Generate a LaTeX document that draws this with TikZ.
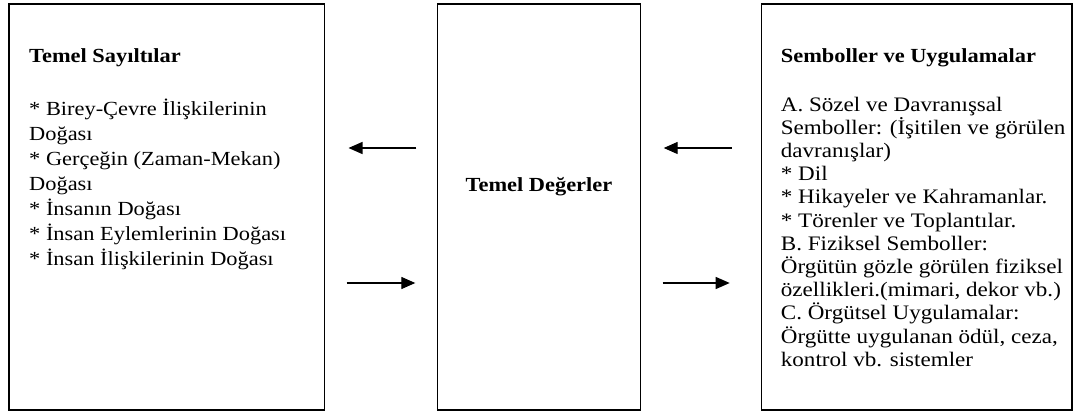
\documentclass[tikz,border=0pt]{standalone}
\usepackage{fontspec}
\setmainfont{Liberation Serif}[FakeStretch=1.12]
\usetikzlibrary{positioning,arrows.meta}
\tikzset{
    every node/.style={font=\fontsize{20}{25}\selectfont},
    panel/.style={draw,line width=1.3pt,minimum height=406pt,inner sep=0pt,outer sep=0pt},
    heading/.style={font=\fontsize{20}{24}\selectfont\bfseries,inner sep=0pt},
    body/.style={align=left,anchor=base west,inner sep=0pt},
    flow/.style={-{Triangle[length=14pt,width=12pt]},line width=1.3pt}
}

\begin{document}
\begin{tikzpicture}
\useasboundingbox (0,0) rectangle (1075pt,415pt);
\node[panel,minimum width=315.5pt] (sayilti) at (166.75pt,208pt) {};
\node[panel,minimum width=203.4pt,right=112.8pt of sayilti] (deger) {};
\node[panel,minimum width=310.3pt,right=121pt of deger] (sembol) {};
\node[heading,anchor=base west] (sayiltiT) at ([xshift=20pt,yshift=-59pt]sayilti.north west) {Temel Sayıltılar};
\node[body] (sayiltiL) at ([yshift=-203pt]sayiltiT.base west) {* Birey-Çevre İlişkilerinin\\ Doğası\\ * Gerçeğin (Zaman-Mekan)\\ Doğası\\ * İnsanın Doğası\\ * İnsan Eylemlerinin Doğası\\ * İnsan İlişkilerinin Doğası};
\node[heading,anchor=base] (degerT) at ([yshift=15pt]deger.center) {Temel Değerler};
\node[heading,anchor=base west] (sembolT) at ([xshift=19pt,yshift=-59pt]sembol.north west) {Semboller ve Uygulamalar};
\node[body,font=\fontsize{20.6}{23.2}\selectfont] (sembolL) at ([yshift=-303.2pt]sembolT.base west) {A. Sözel ve Davranışsal\\ Semboller: (İşitilen ve görülen\\ davranışlar)\\ * Dil\\ * Hikayeler ve Kahramanlar.\\ * Törenler ve Toplantılar.\\ B. Fiziksel Semboller:\\ Örgütün gözle görülen fiziksel\\ özellikleri.(mimari, dekor vb.)\\ C. Örgütsel Uygulamalar:\\ Örgütte uygulanan ödül, ceza,\\ kontrol vb. sistemler};
\draw[flow,shorten <=21pt,shorten >=24pt] ([yshift=59pt]deger.west) -- ([yshift=59pt]sayilti.east);
\draw[flow,shorten <=22pt,shorten >=22pt] ([yshift=-76pt]sayilti.east) -- ([yshift=-76pt]deger.west);
\draw[flow,shorten <=30pt,shorten >=23pt] ([yshift=59pt]sembol.west) -- ([yshift=59pt]deger.east);
\draw[flow,shorten <=22pt,shorten >=32pt] ([yshift=-76pt]deger.east) -- ([yshift=-76pt]sembol.west);
\end{tikzpicture}
\end{document}
